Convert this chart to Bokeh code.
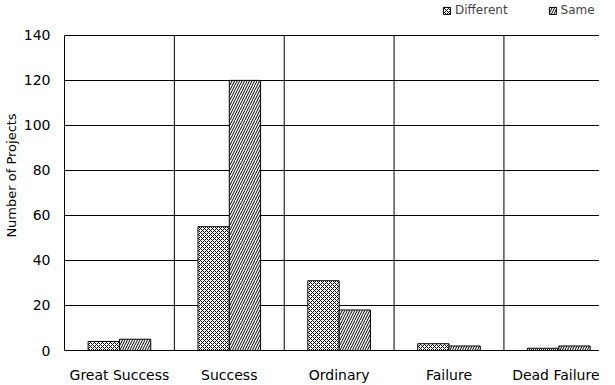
from bokeh.plotting import figure
from bokeh.models import Range1d, FixedTicker, Legend, LegendItem, ColumnDataSource
from bokeh.embed import file_html
from bokeh.resources import INLINE

categories = ["Great Success", "Success", "Ordinary", "Failure", "Dead Failure"]
different = [4, 55, 31, 3, 1]
same = [5, 120, 18, 2, 2]
y_ticks = [0, 20, 40, 60, 80, 100, 120, 140]

n = len(categories)
centers = [i + 0.5 for i in range(n)]
bw = 0.285

FONT = "DejaVu Sans"

p = figure(width=599, height=385, output_backend="svg", toolbar_location=None,
           x_range=Range1d(0, 4.87), y_range=Range1d(0, 155.5),
           min_border_left=56, min_border_right=0, min_border_top=0, min_border_bottom=35)
p.outline_line_color = None
p.xgrid.visible = False

# category separators, spanning the value axis from its first to its last tick
sep_x = [i for i in range(1, n + 1)]
p.segment(x0=sep_x, x1=sep_x, y0=[y_ticks[0]] * len(sep_x), y1=[y_ticks[-1]] * len(sep_x),
          line_color="black", line_width=1)

src_d = ColumnDataSource(dict(x=[c - bw / 2 for c in centers], top=different))
src_s = ColumnDataSource(dict(x=[c + bw / 2 for c in centers], top=same))

r1 = p.vbar(x="x", top="top", width=bw, source=src_d, fill_color="white", line_color="black",
            line_width=1, hatch_pattern="diagonal_cross", hatch_color="black", hatch_scale=4, hatch_weight=1)
r2 = p.vbar(x="x", top="top", width=bw, source=src_s, fill_color="white", line_color="black",
            line_width=1, hatch_pattern="right_diagonal_line", hatch_color="black", hatch_scale=5, hatch_weight=1)

# axes
p.xaxis.ticker = FixedTicker(ticks=centers)
p.xaxis.major_label_overrides = {c: name for c, name in zip(centers, categories)}
p.xaxis.major_tick_line_color = None
p.xaxis.minor_tick_line_color = None
p.xaxis.axis_line_color = "black"
p.xaxis.major_label_text_font = FONT
p.xaxis.major_label_text_font_size = "14px"
p.xaxis.major_label_text_color = "black"
p.xaxis.major_label_standoff = 10

p.yaxis.ticker = FixedTicker(ticks=y_ticks)
p.yaxis.bounds = (y_ticks[0], y_ticks[-1])
p.yaxis.major_tick_line_color = None
p.yaxis.minor_tick_line_color = None
p.yaxis.axis_line_color = "black"
p.yaxis.major_label_text_font = FONT
p.yaxis.major_label_text_font_size = "14px"
p.yaxis.major_label_text_color = "black"
p.yaxis.major_label_standoff = 8
p.yaxis.axis_label = "Number of Projects"
p.yaxis.axis_label_text_font = FONT
p.yaxis.axis_label_text_font_size = "13px"
p.yaxis.axis_label_text_font_style = "normal"
p.yaxis.axis_label_text_color = "black"
p.yaxis.axis_label_standoff = 2

p.ygrid.ticker = FixedTicker(ticks=y_ticks)
p.ygrid.grid_line_color = "black"
p.ygrid.grid_line_width = 1

legend = Legend(items=[LegendItem(label="Different", renderers=[r1]),
                       LegendItem(label="Same", renderers=[r2])],
                orientation="horizontal", location=(378, 333),
                glyph_width=9, glyph_height=9, label_standoff=4, spacing=40,
                padding=0, margin=0, border_line_color=None, background_fill_alpha=0,
                label_text_font=FONT, label_text_font_size="12px", label_height=12)
p.add_layout(legend, "center")

open("out.html", "w").write(file_html(p, INLINE))
